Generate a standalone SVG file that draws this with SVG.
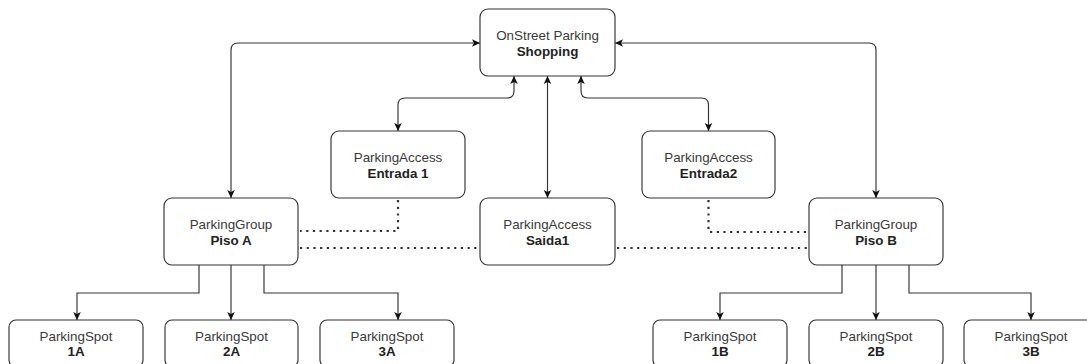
<svg xmlns="http://www.w3.org/2000/svg" width="1087" height="364" viewBox="0 0 1087 364">
  <style>
    .box { fill: #ffffff; stroke: #333333; stroke-width: 1.15; }
    .lbl { font-family: "Liberation Sans", Arial, Helvetica, sans-serif; font-size: 13.4px; fill: #3a3a3a; text-anchor: middle; }
    .b { font-weight: bold; fill: #222222; }
    .edge { fill: none; stroke: #333333; stroke-width: 1.15; }
    .dot { fill: none; stroke: #333333; stroke-width: 2.2; stroke-dasharray: 2.2 4.5; }
  </style>
  <defs>
    <marker id="arr" viewBox="-9 -5 10 10" refX="0" refY="0" markerWidth="10" markerHeight="10" markerUnits="userSpaceOnUse" orient="auto-start-reverse">
      <path d="M0,0 L-8,-3.8 L-6,0 L-8,3.8 Z" fill="#111111"/>
    </marker>
  </defs>

  <rect width="1087" height="364" fill="#ffffff"/>

  <!-- connectors -->
  <g id="connectors">
    <!-- hub to groups and accesses (two-way) -->
    <path class="edge" d="M480,43 H238 Q231,43 231,50 V198" marker-start="url(#arr)" marker-end="url(#arr)"/>
    <path class="edge" d="M615,43 H869 Q876,43 876,50 V198" marker-start="url(#arr)" marker-end="url(#arr)"/>
    <path class="edge" d="M514,76 V91 Q514,98 507,98 H405 Q398,98 398,105 V131" marker-start="url(#arr)" marker-end="url(#arr)"/>
    <path class="edge" d="M547.5,76 V198" marker-start="url(#arr)" marker-end="url(#arr)"/>
    <path class="edge" d="M581,76 V91 Q581,98 588,98 H701.5 Q708.5,98 708.5,105 V131" marker-start="url(#arr)" marker-end="url(#arr)"/>

    <!-- group A to spots -->
    <path class="edge" d="M199,265 V293 H77 V320" marker-end="url(#arr)"/>
    <path class="edge" d="M231,265 V320" marker-end="url(#arr)"/>
    <path class="edge" d="M264,265 V293 H398 V320" marker-end="url(#arr)"/>

    <!-- group B to spots -->
    <path class="edge" d="M842,265 V293 H720 V320" marker-end="url(#arr)"/>
    <path class="edge" d="M876,265 V320" marker-end="url(#arr)"/>
    <path class="edge" d="M909,265 V293 H1031 V320" marker-end="url(#arr)"/>

    <!-- dotted associations -->
    <path class="dot" d="M398,200 V231 H300"/>
    <path class="dot" d="M300,248 H480"/>
    <path class="dot" d="M617,248 H809"/>
    <path class="dot" d="M708.5,200 V232 H807"/>
  </g>

  <!-- nodes -->
  <g id="shopping">
    <rect class="box" x="480" y="9" width="135" height="67" rx="8"/>
    <text class="lbl" x="547.5" y="40">OnStreet Parking</text>
    <text class="lbl b" x="547.5" y="56">Shopping</text>
  </g>

  <g id="entrada1">
    <rect class="box" x="331" y="131" width="134" height="67" rx="8"/>
    <text class="lbl" x="398" y="162">ParkingAccess</text>
    <text class="lbl b" x="398" y="178">Entrada 1</text>
  </g>

  <g id="entrada2">
    <rect class="box" x="642" y="131" width="133" height="67" rx="8"/>
    <text class="lbl" x="708.5" y="162">ParkingAccess</text>
    <text class="lbl b" x="708.5" y="178">Entrada2</text>
  </g>

  <g id="pisoA">
    <rect class="box" x="164" y="198" width="134" height="67" rx="8"/>
    <text class="lbl" x="231" y="229">ParkingGroup</text>
    <text class="lbl b" x="231" y="245">Piso A</text>
  </g>

  <g id="saida1">
    <rect class="box" x="480" y="198" width="135" height="67" rx="8"/>
    <text class="lbl" x="547.5" y="229">ParkingAccess</text>
    <text class="lbl b" x="547.5" y="245">Saida1</text>
  </g>

  <g id="pisoB">
    <rect class="box" x="809" y="198" width="134" height="67" rx="8"/>
    <text class="lbl" x="876" y="229">ParkingGroup</text>
    <text class="lbl b" x="876" y="245">Piso B</text>
  </g>

  <g id="spot1A">
    <rect class="box" x="9" y="320" width="134" height="47" rx="7"/>
    <text class="lbl" x="76" y="341">ParkingSpot</text>
    <text class="lbl b" x="76" y="356">1A</text>
  </g>

  <g id="spot2A">
    <rect class="box" x="165" y="320" width="133" height="47" rx="7"/>
    <text class="lbl" x="231.5" y="341">ParkingSpot</text>
    <text class="lbl b" x="231.5" y="356">2A</text>
  </g>

  <g id="spot3A">
    <rect class="box" x="320" y="320" width="134" height="47" rx="7"/>
    <text class="lbl" x="387" y="341">ParkingSpot</text>
    <text class="lbl b" x="387" y="356">3A</text>
  </g>

  <g id="spot1B">
    <rect class="box" x="653" y="320" width="134" height="47" rx="7"/>
    <text class="lbl" x="720" y="341">ParkingSpot</text>
    <text class="lbl b" x="720" y="356">1B</text>
  </g>

  <g id="spot2B">
    <rect class="box" x="809" y="320" width="134" height="47" rx="7"/>
    <text class="lbl" x="876" y="341">ParkingSpot</text>
    <text class="lbl b" x="876" y="356">2B</text>
  </g>

  <g id="spot3B">
    <rect class="box" x="964" y="320" width="134" height="47" rx="7"/>
    <text class="lbl" x="1031" y="341">ParkingSpot</text>
    <text class="lbl b" x="1031" y="356">3B</text>
  </g>
</svg>
